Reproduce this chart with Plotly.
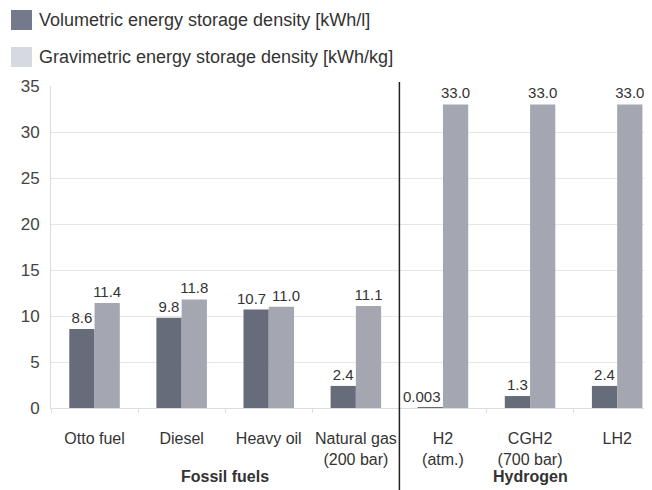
import plotly.graph_objects as go

categories = ["Otto fuel", "Diesel", "Heavy oil", "Natural gas<br>(200 bar)",
              "H2<br>(atm.)", "CGH2<br>(700 bar)", "LH2"]
volumetric = [8.6, 9.8, 10.7, 2.4, 0.003, 1.3, 2.4]
gravimetric = [11.4, 11.8, 11.0, 11.1, 33.0, 33.0, 33.0]
vol_labels = ["8.6", "9.8", "10.7", "2.4", "0.003", "1.3", "2.4"]
grav_labels = ["11.4", "11.8", "11.0", "11.1", "33.0", "33.0", "33.0"]
legend_names = ["Volumetric energy storage density [kWh/l]",
                "Gravimetric energy storage density [kWh/kg]"]
group_names = ["Fossil fuels", "Hydrogen"]
y_ticks = [0, 5, 10, 15, 20, 25, 30, 35]

FONT = "Liberation Sans, Arial, sans-serif"
DARK = "#676c7b"
LIGHT = "#a4a7b1"
TXT = "#333333"
LBL = 15

# page body offsets the figure by 8px; work in figure coordinates
W, H = 644, 482
L, T, B = 43, 78, 82
PW, PH = W - L, H - T - B


def px(x):  # window x -> paper
    return (x - 8 - L) / PW


def py(y):  # window y -> paper
    return (H - B - (y - 8)) / PH


# labels that need nudging (index -> (vol xshift, grav xshift)), drawn as annotations
nudged = {2: (-5, 5), 4: (-8, None)}
vol_text = [t if i not in nudged else "" for i, t in enumerate(vol_labels)]
grav_text = [t if (i not in nudged or nudged[i][1] is None) else "" for i, t in enumerate(grav_labels)]

fig = go.Figure()
fig.add_trace(go.Bar(x=categories, y=volumetric, text=vol_text, textposition="outside",
                     marker=dict(color=DARK, line=dict(width=0)), showlegend=False,
                     cliponaxis=False, constraintext="none",
                     textfont=dict(size=LBL, color=TXT, family=FONT)))
fig.add_trace(go.Bar(x=categories, y=gravimetric, text=grav_text, textposition="outside",
                     marker=dict(color=LIGHT, line=dict(width=0)), showlegend=False,
                     cliponaxis=False, constraintext="none",
                     textfont=dict(size=LBL, color=TXT, family=FONT)))

shapes = []
annotations = []
BAR_OFF = 12.6  # px offset of each bar from category centre
for i, (vs, gs) in nudged.items():
    annotations.append(dict(text=vol_labels[i], x=categories[i], y=volumetric[i],
                            xref="x", yref="y", xanchor="center", yanchor="bottom",
                            xshift=-BAR_OFF + vs, yshift=1, showarrow=False,
                            font=dict(size=LBL, color=TXT, family=FONT)))
    if gs is not None:
        annotations.append(dict(text=grav_labels[i], x=categories[i], y=gravimetric[i],
                                xref="x", yref="y", xanchor="center", yanchor="bottom",
                                xshift=BAR_OFF + gs, yshift=1, showarrow=False,
                                font=dict(size=LBL, color=TXT, family=FONT)))
# legend boxes drawn manually
leg_colors = ["#747a8b", "#d6d9df"]
leg_y = [20, 57]
for c, yc, name in zip(leg_colors, leg_y, legend_names):
    shapes.append(dict(type="rect", xref="paper", yref="paper",
                       x0=px(11), x1=px(32), y0=py(yc - 10), y1=py(yc + 10),
                       fillcolor=c, line=dict(width=0)))
    annotations.append(dict(text=name, xref="paper", yref="paper",
                            x=px(37), y=py(yc), xanchor="left", yanchor="middle",
                            showarrow=False, font=dict(size=18, color=TXT, family=FONT)))
# divider
shapes.append(dict(type="line", xref="x", yref="paper", x0=3.5, x1=3.5,
                   y0=py(492), y1=py(82), line=dict(color="#222222", width=1.5)))
# group labels
for xc, name in zip([1.5, 5.0], group_names):
    annotations.append(dict(text="<b>" + name + "</b>", xref="x", yref="paper",
                            x=xc, y=py(477), xanchor="center", yanchor="middle",
                            showarrow=False, font=dict(size=16, color=TXT, family=FONT)))

fig.update_layout(
    width=W, height=H,
    margin=dict(l=L, r=0, t=T, b=B, autoexpand=False),
    paper_bgcolor="white", plot_bgcolor="white",
    barmode="group", bargap=0.42, bargroupgap=0,
    font=dict(family=FONT, color=TXT),
    shapes=shapes, annotations=annotations,
    xaxis=dict(range=[-0.5, 6.4], showgrid=False, showline=True, linecolor="#dddddd",
               ticks="outside", ticklen=4, tickcolor="#dddddd", tickson="boundaries",
               ticklabelstandoff=16, automargin=False, tickangle=0,
               tickfont=dict(size=16, color=TXT, family=FONT)),
    yaxis=dict(range=[0, 35], tickvals=y_ticks, showgrid=True, gridcolor="#e6e6e6",
               showline=True, linecolor="#dddddd", zeroline=False,
               ticks="", ticklabelstandoff=7, automargin=False,
               tickfont=dict(size=17, color="#444444", family=FONT)),
)

fig.write_html("out.html")
